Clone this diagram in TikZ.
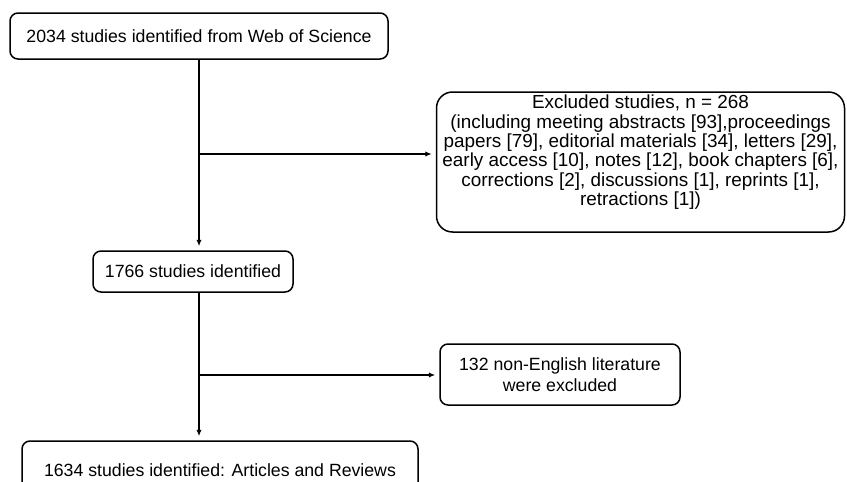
\documentclass[tikz,border=0pt]{standalone}
\usepackage{fontspec}
\setmainfont{Liberation Sans}
\usetikzlibrary{positioning}
\usetikzlibrary{calc}
\usetikzlibrary{arrows.meta}

\begin{document}
\begin{tikzpicture} [x=1pt,y=-1pt,
            stepbox/.style={draw=black,line width=1.5pt,rounded corners=8pt,inner sep=0pt,
                            font=\fontsize{17.7}{19.5}\selectfont},
            flow/.style={->,black,line width=1.3pt,shorten >=4pt},
            >={Latex[length=6.5pt,width=5.5pt]},
         every node/.append style={align=center}]
\useasboundingbox (0,0) rectangle (847,482);

\node (wos) at (199,36) [stepbox,minimum width=378pt,minimum height=46pt] {2034 studies identified from Web of Science}
node (excl) at (640.5,162) [stepbox,rounded corners=16pt,minimum width=408pt,minimum height=140pt,
                            font=\fontsize{18.9}{19.3}\selectfont]
   {Excluded studies, n = 268\\
    (including meeting abstracts [93],proceedings\\
    papers [79], editorial materials [34], letters [29],\\
    early access [10], notes [12], book chapters [6],\\
    corrections [2], discussions [1], reprints [1],\\
    retractions [1])\\[4pt]\mbox{}}
node (ident) at (193,271.5) [stepbox,minimum width=200pt,minimum height=41pt] {1766 studies identified}
node (nonen) at (560,374.5) [stepbox,minimum width=240pt,minimum height=61pt,
                             font=\fontsize{17.7}{21}\selectfont] {132 non-English literature\\were excluded}
node (final) at (220,470) [stepbox,minimum width=396pt,minimum height=58pt] {1634 studies identified: Articles and Reviews}
 ;
\coordinate (j1) at (199,154);
\coordinate (j2) at (199,375);

\draw [flow] (wos.south) -- (wos.south |- ident.north);
\draw [flow] (j1) -- (j1 -| excl.west);
\draw [flow] (wos.south |- ident.south) -- (wos.south |- final.north);
\draw [flow] (j2) -- (j2 -| nonen.west);
\end{tikzpicture}
\end{document}
